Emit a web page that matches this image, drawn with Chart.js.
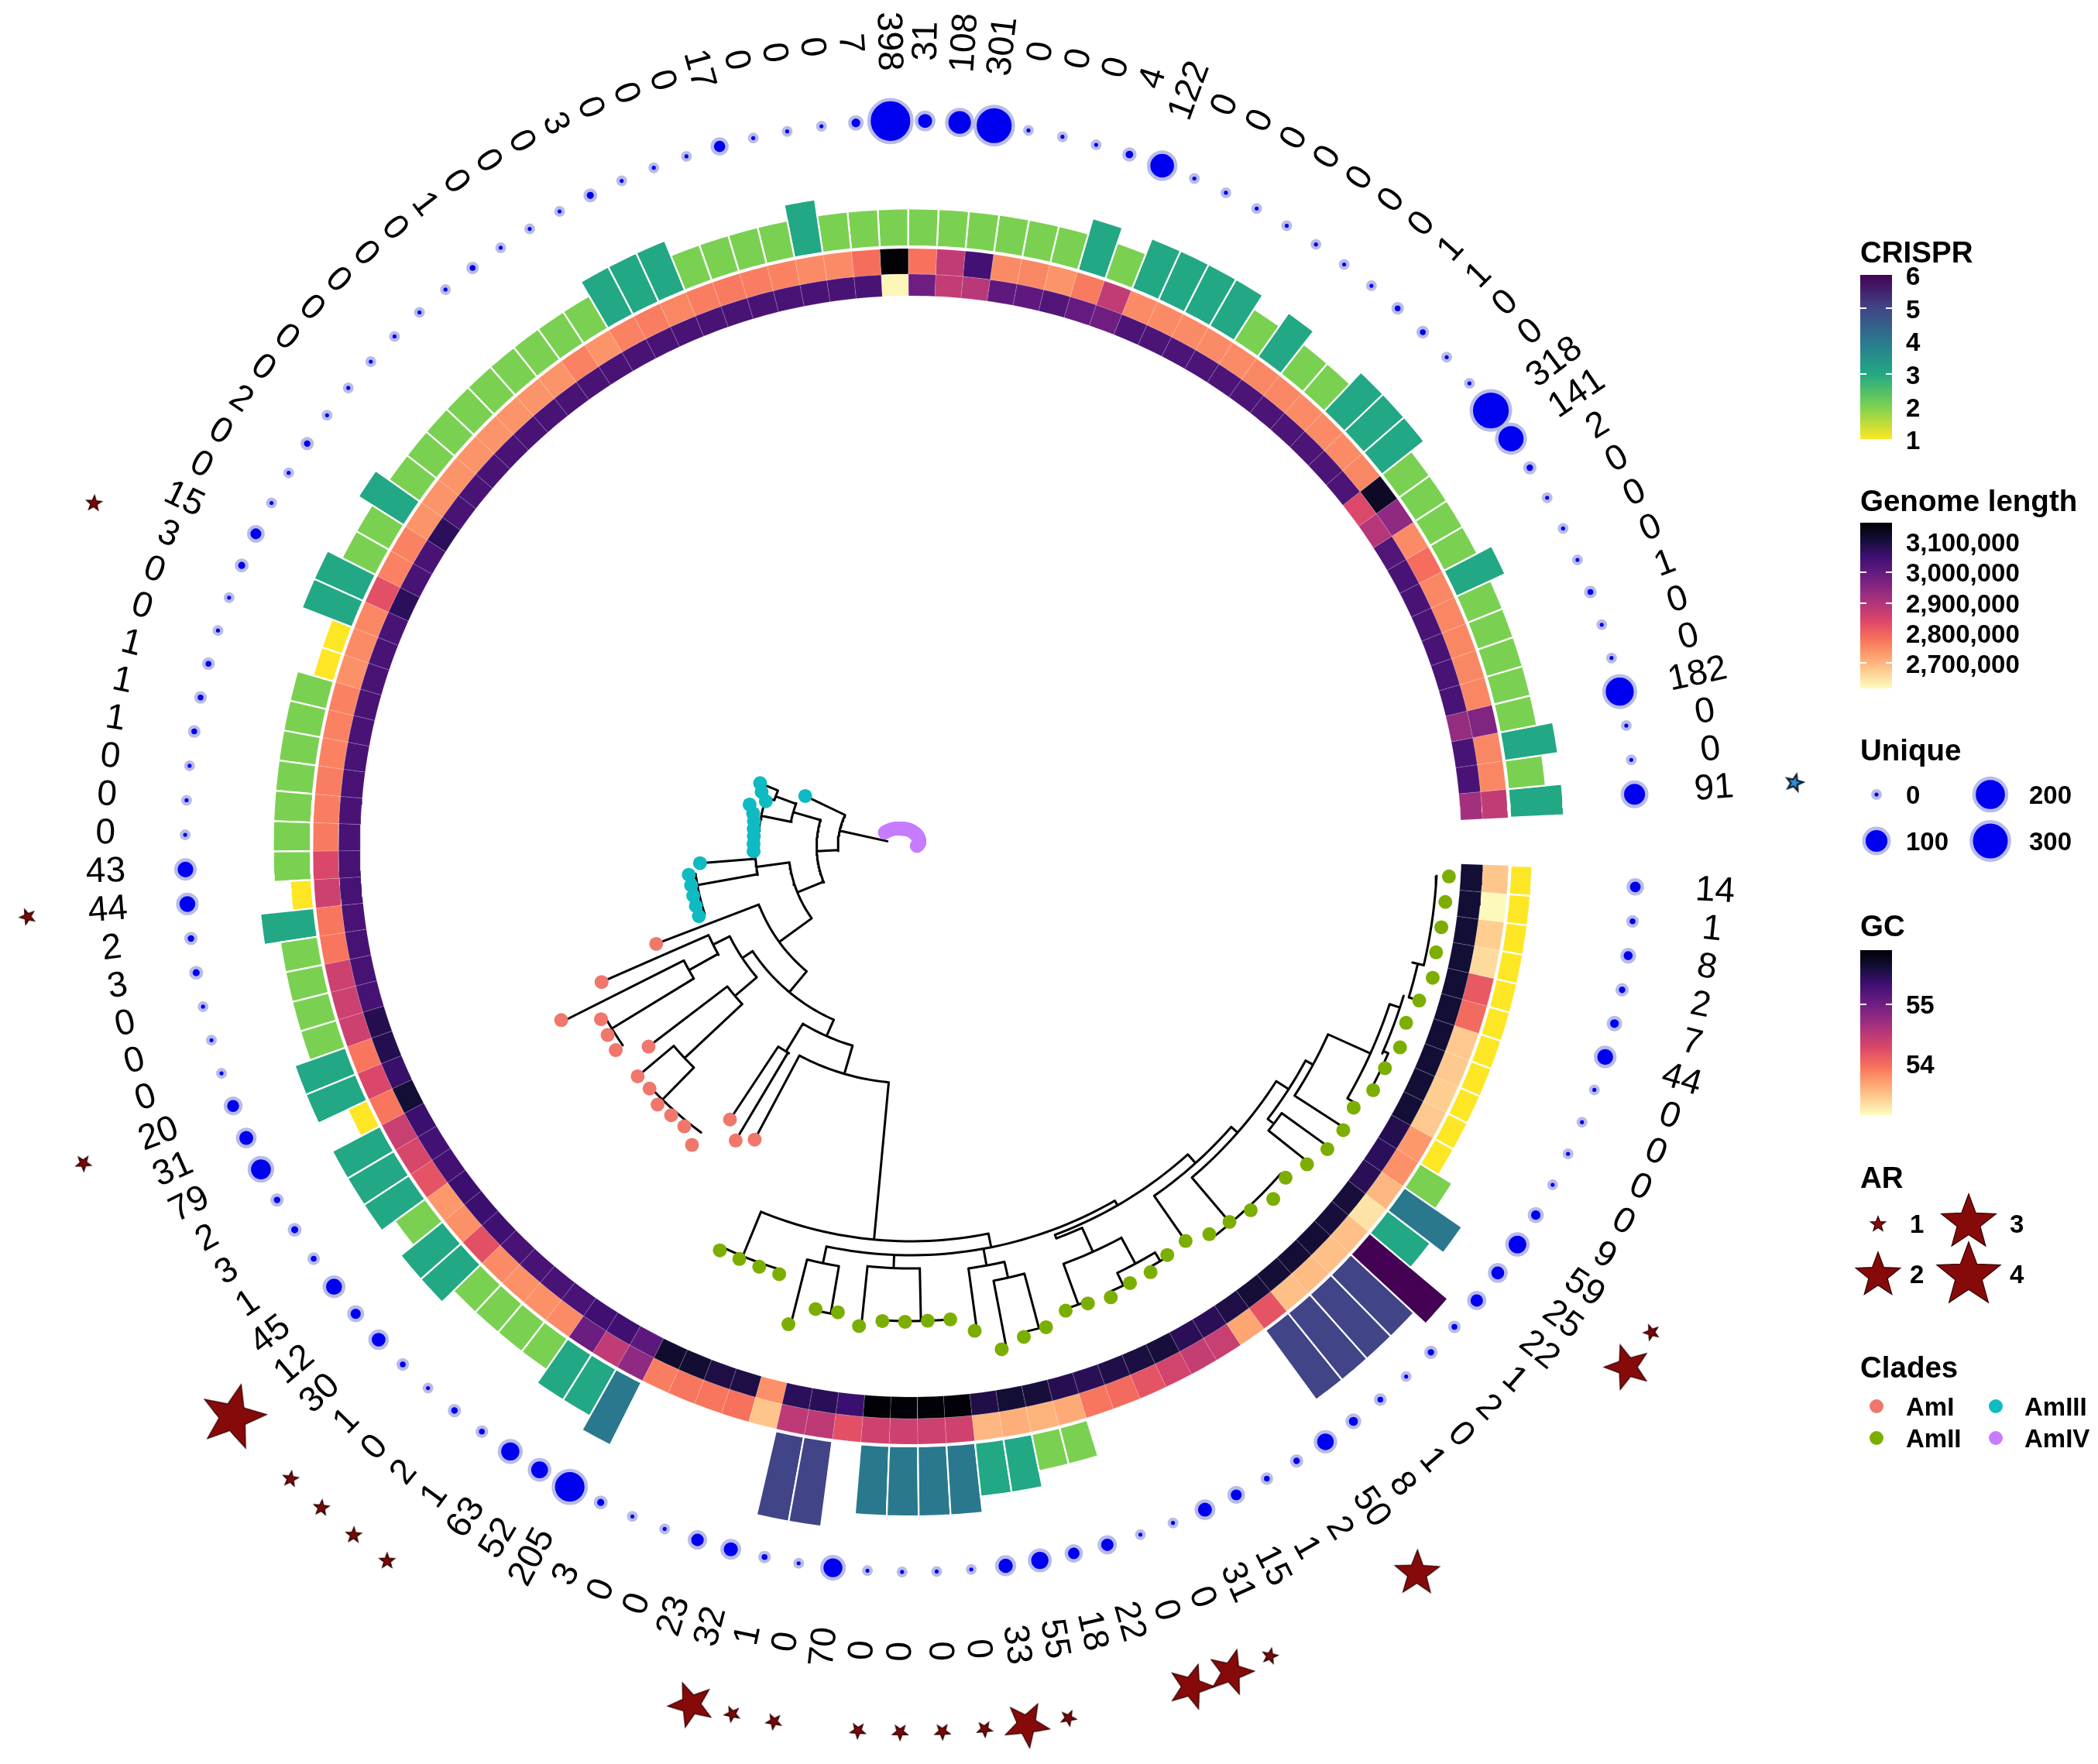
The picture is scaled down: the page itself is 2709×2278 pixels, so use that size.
<!DOCTYPE html>
<html><head><meta charset="utf-8">
<style>html,body{margin:0;padding:0;background:#fff}canvas{display:block}</style>
<script src="https://cdn.jsdelivr.net/npm/chart.js@4"></script>
</head><body><canvas id="c" width="2709" height="2278"></canvas>
<script>
// ---------- data, clockwise from the tip just below the gap ----------
const uniqueCounts=[14,1,8,2,7,44,0,0,0,0,
9,59,25,22,1,2,0,1,8,50,
2,1,15,31,0,0,22,18,55,33,
0,0,0,0,70,0,1,32,23,0,
0,3,205,52,63,1,2,0,1,30,
12,45,1,3,2,79,31,20,0,0,
0,3,2,44,43,0,0,0,1,1,
1,0,0,3,15,0,0,2,0,0,
0,0,0,0,1,0,0,0,3,0,
0,0,17,0,0,0,7,398,31,108,
301,0,0,0,4,122,0,0,0,0,
0,0,0,1,1,0,0,318,141,2,
0,0,0,1,0,0,182,0,0,91];
const crispr=[1,1,1,1,1,1,1,1,1,1,
1,2,4,3,6,5,5,5,5,null,
null,null,null,null,null,null,2,2,3,3,
4,4,4,4,null,5,5,null,null,null,
null,null,4,3,3,2,2,2,2,3,
3,2,3,3,3,1,3,3,2,2,
2,2,3,1,2,2,2,2,2,2,
2,1,1,3,3,2,2,3,2,2,
2,2,2,2,2,2,2,3,3,3,
2,2,2,2,3,2,2,2,2,2,
2,2,2,2,3,2,3,3,3,3,
2,3,2,2,3,3,3,2,2,2,
2,3,2,2,2,2,2,3,2,3];
const genomeLength=[2684,2625,2675,2660,2813,2790,2680,2680,2675,2680,
2735,2745,2700,2650,2690,2690,2695,2690,2820,2720,
2865,2870,2850,2820,2790,2775,2715,2705,2710,2700,
2855,2860,2860,2855,2825,2880,2880,2685,2780,2775,
2775,2765,2940,2875,2985,2750,2745,2745,2750,2825,
2745,2735,2820,2845,2865,2775,2840,2775,2860,2860,
2860,2775,2775,2860,2840,2770,2765,2765,2760,2760,
2760,2745,2750,2755,2825,2760,2760,2740,2740,2740,
2740,2740,2740,2740,2740,2760,2740,2760,2765,2755,
2765,2770,2765,2760,2750,2750,2785,3155,2780,2875,
3040,2750,2755,2740,2770,2875,2750,2750,2750,2750,
2750,2755,2755,2750,2750,2750,2755,3120,2940,2750,
2785,2755,2755,2755,2755,2755,2958,2755,2755,2875];
const gc=[55.68,55.68,55.68,55.68,55.68,55.68,55.68,55.68,55.68,55.68,
55.55,55.50,55.52,55.65,55.65,55.67,55.67,55.67,55.66,55.60,
55.52,55.52,55.65,55.62,55.58,55.52,55.54,55.65,55.68,55.58,
55.93,55.93,55.93,55.93,55.40,55.52,55.50,53.82,55.60,55.60,
55.70,55.72,55.17,55.37,55.37,55.30,55.30,55.30,55.30,55.37,
55.40,55.40,55.35,55.35,55.40,55.68,55.42,55.55,55.55,55.32,
55.32,55.32,55.30,55.32,55.32,55.30,55.30,55.30,55.30,55.30,
55.30,55.30,55.30,55.30,55.50,55.30,55.30,55.50,55.30,55.30,
55.30,55.30,55.30,55.30,55.30,55.30,55.30,55.30,55.30,55.30,
55.30,55.30,55.30,55.30,55.30,55.30,55.30,53.22,55.05,54.48,
54.55,55.15,55.15,55.25,55.12,55.05,55.28,55.28,55.28,55.28,
55.28,55.28,55.28,55.28,55.28,55.28,55.28,54.30,54.57,55.25,
55.30,55.30,55.30,55.30,55.30,55.30,54.79,55.30,55.30,54.70];
const arTips=[11,12,19,23,24,25,28,29,30,31,32,33,35,36,37,45,46,47,48,50,57,63,73,129];
const arLevels=[1,2,2,1,2,2,1,2,1,1,1,1,1,1,2,1,1,1,1,4,1,1,1,1];
const arBlueTips=[129];
const tipDepth=[696,694,693,692,695,686,679,683,676,675,
664,668,665,656,646,653,643,636,632,621,
623,631,631,637,633,632,645,650,660,631,
613,613,614,614,623,609,610,637,578,577,
577,577,429,442,423,478,465,465,467,460,
461,426,463,461,458,504,436,352,288,288,
288,288,289,273,203,203,203,204,205,208,
215,196,205,211,151,
38,37,36,35,34,33,32,31,30,29,
28,27,26,25,25,24,24,23,23,22,
22,21,21,20,20,19,19,18,18,18,
17,17,17,16,16,16,15,15,15,14,
14,14,13,13,13,12,12,12,11,11,
10,10,9,8,8];
const cladeNames=['AmI','AmII','AmIII','AmIV'];
const cladeFirstTip=[42,0,58,75];
const cladeLastTip=[57,41,74,129];
const cladeColors=['#F0776C','#7CAE00','#0FBAC2','#C77CFF'];
// tree branches in tip-index / depth terms
const treeArcs=[[94,63.4,73.8],[121.5,56.4,70.7],[158,68.9,72.2],[186,71.5,72.9],[197,64,70],[158,51.6,61.8],[201,60.8,63.1],[280,58,62],
[210,46.3,56.8],[245,40.5,52.4],[268,37.7,43.2],[306,33.7,42],[310,42.9,44],[261,49.9,54.9],[285,53.9,55.8],[328,53.2,54.9],[452,52,54],
[298,48.9,50.9],[400,48,50],[458,45,49],
[510,27.6,39.9],[572,38,41],[528,20.8,36.1],[550,35.3,36.9],[612,35,36],[545,31.3,33.9],[613,30,33],[550,27.1,28.9],[571,26.3,27.8],[644,26,27],
[535,16.4,24.3],[540,22.9,24.3],[574,21.4,24.4],[630,24,25],[612,20.4,22.3],[625,20,21],[630,22,23],[550,13.9,19],[561,10.8,17],[638,14,18],
[580,9.25,12.5],[590,11.9,12.9],[591,7.7,10.9],[651,5.5,9.8],[665,5,7.5],[672,3.6,5],[672,7.4,9],[680,0,3.6]];
const treeRadials=[[69.2,31,94],[74,94,151],[63.6,94,121.5],[70.6,121.5,158],[68.9,158,197],[72.1,158,186],[73,186,211],[71.5,186,198],[56.6,121.5,158],
[61.9,158,201],[63,201,273],[60.9,201,280],[51.5,158,210],[57,210,352],[46.3,210,245],[40.5,245,268],[37.7,268,306],[43.2,268,310],[44,310,423],[43,310,442],[42,306,429],
[52.4,245,261],[55,261,285],[56,285,436],[54,285,328],[54.9,328,504],[53.2,328,452],[49.9,261,298],[51,298,426],[48.9,298,400],[50,400,461],[48,400,458],
[33.7,306,510],[39.9,510,572],[27.6,510,528],[36.1,528,550],[36.9,550,637],[35.3,550,612],[32.6,528,545],[33.9,545,623],[31.3,545,613],
[28,528,550],[28.9,550,631],[27.1,550,571],[27.8,571,660],[26.3,571,644],
[20.8,528,535],[24.3,535,540],[22.9,540,574],[24.4,574,630],[21.4,574,612],[22.3,612,628],[20.4,612,623],[16.4,535,550],[19,550,621],[13.9,550,561],[17,561,638],
[10.8,561,580],[12.5,580,590],[11.9,590,665],[12.9,590,656],[9.25,580,591],[10.9,591,668],[7.7,591,651],[9.8,651,664],[5.5,651,665],[3.6,665,680],[7.4,665,672],[5,672,686]];
const crisprTicks=[6,5,4,3,2,1];
const genomeTicks=['3,100,000','3,000,000','2,900,000','2,800,000','2,700,000'];
const gcTicks=['55','54'];
const uniqueLegend=[0,100,200,300];
const arLegend=[1,2,3,4];

// ---------- layout ----------
const W=2709,H=2278,CX=1176,CY=1093,STEP=2.734,START=3.2;
const R_GC=[711,739],R_GEN=[739,772],R_BAR=775,R_DOT=937,R_LAB=1040,R_STAR=1144;
const FONT='"Liberation Sans",Arial,sans-serif';
const ang=i=>START+STEP*i;
const pol=(i,r)=>{const a=ang(i)*Math.PI/180;return{x:CX+r*Math.cos(a),y:CY+r*Math.sin(a)};};
const hex=h=>[1,3,5].map(k=>parseInt(h.substr(k,2),16));
const ramp=(st,t)=>{t=Math.max(0,Math.min(1,t));const n=st.length-1,k=Math.min(n-1,Math.floor(t*n)),f=t*n-k,a=hex(st[k]),b=hex(st[k+1]);
  return 'rgb('+a.map((v,j)=>Math.round(v+(b[j]-v)*f)).join(',')+')';};
const MAGMA=['#000004','#140E36','#3B0F70','#641A80','#8C2981','#B73779','#DE4968','#F7705C','#FE9F6D','#FECF92','#FCFDBF'];
const VIRIDIS=['#440154','#414487','#2A788E','#22A884','#7AD151','#FDE725'];
const genomeColor=v=>ramp(MAGMA,(3157-v)/537);
const gcColor=v=>ramp(MAGMA,(55.95-v)/2.77);
const crisprColor=v=>ramp(VIRIDIS,(6-v)/5);
const barH=v=>7+20.8*v;
const dotR=v=>7+Math.sqrt(v)*1.15;
const HALO=4.4;

function wedge(i,r0,r1){const s=[-.5,-.25,0,.25,.5],p=[];
  s.forEach(d=>p.push(pol(i+d,r0)));s.slice().reverse().forEach(d=>p.push(pol(i+d,r1)));p.push(p[0]);return p;}
const cell=(pts,color,bc,bw)=>({data:pts,showLine:true,fill:'shape',backgroundColor:color,borderColor:bc,borderWidth:bw,pointRadius:0,tension:0,clip:false});

function starPath(ctx,x,y,r,rotDeg){ctx.beginPath();for(let k=0;k<10;k++){const rr=k%2?r*.42:r,a=(rotDeg-90+k*36)*Math.PI/180;
  const px=x+rr*Math.cos(a),py=y+rr*Math.sin(a);k?ctx.lineTo(px,py):ctx.moveTo(px,py);}ctx.closePath();}
const STAR_R={1:10,2:30,3:37,4:43};
function starSprite(r,fill,edge,lw){const c=document.createElement('canvas');c.width=c.height=2*r+6;
  const g=c.getContext('2d');starPath(g,r+3,r+3,r,0);g.fillStyle=fill;g.fill();g.strokeStyle=edge;g.lineWidth=lw;g.stroke();return c;}
const sprites={1:starSprite(10,'#7A0808','#3C0505',1.6),2:starSprite(30,'#870A0A','#3C0505',1.4),3:starSprite(37,'#870A0A','#3C0505',1.4),4:starSprite(43,'#870A0A','#3C0505',1.4)};
const blueSprite=starSprite(11,'#2F8FD8','#10202C',2.4);

// ---------- datasets ----------
const datasets=[];
// tips first so that they sit on top of the branches
cladeNames.forEach((n,c)=>{const pts=[];for(let i=cladeFirstTip[c];i<=cladeLastTip[c];i++)pts.push(pol(i,tipDepth[i]));
  datasets.push({data:pts,showLine:false,pointRadius:9,pointBorderWidth:0,pointBackgroundColor:cladeColors[c],clip:false});});
// tree branches
const treePts=[];const brk={x:NaN,y:NaN};
treeRadials.forEach(([i,a,b])=>{treePts.push(pol(i,a),pol(i,b),brk);});
treeArcs.forEach(([r,a,b])=>{for(let t=a;t<b;t+=.4)treePts.push(pol(t,r));treePts.push(pol(b,r),brk);});
datasets.push({data:treePts,showLine:true,fill:false,borderColor:'#000',borderWidth:3,borderCapStyle:'round',pointRadius:0,spanGaps:false,tension:0,clip:false});
// unique dots
datasets.push({data:uniqueCounts.map((v,i)=>pol(i,R_DOT)),showLine:false,clip:false,
  pointRadius:uniqueCounts.map(v=>dotR(v)-HALO/2),pointBackgroundColor:'#0000F0',pointBorderColor:'#B9BCE9',pointBorderWidth:HALO});
// AR stars
datasets.push({data:arTips.map(i=>pol(i,R_STAR)),showLine:false,clip:false,
  pointStyle:arTips.map((t,k)=>arBlueTips.includes(t)?blueSprite:sprites[arLevels[k]]),pointRadius:10,rotation:arTips.map(i=>ang(i)+90)});
// rings
uniqueCounts.forEach((_,i)=>{
  datasets.push(cell(wedge(i,R_GC[0],R_GC[1]),gcColor(gc[i]),'rgba(255,255,255,.16)',1));
  datasets.push(cell(wedge(i,R_GEN[0],R_GEN[1]),genomeColor(genomeLength[i]),'rgba(255,255,255,.16)',1));
  if(crispr[i]!==null)datasets.push(cell(wedge(i,R_BAR,R_BAR+barH(crispr[i])),crisprColor(crispr[i]),'#fff',2.2));
});

// ---------- text and legend plugin ----------
const textPlugin={id:'textPlugin',afterDatasetsDraw(chart){
  const ctx=chart.ctx,sx=chart.scales.x,sy=chart.scales.y;
  ctx.save();ctx.textBaseline='middle';ctx.fillStyle='#000';
  // rotated value labels
  ctx.font='46px '+FONT;ctx.textAlign='center';
  uniqueCounts.forEach((v,i)=>{const p=pol(i,R_LAB),a=ang(i);let rot=a;if(a>90&&a<270)rot=a-180;
    ctx.save();ctx.translate(sx.getPixelForValue(p.x),sy.getPixelForValue(p.y));ctx.rotate(rot*Math.PI/180);ctx.fillText(String(v),0,0);ctx.restore();});
  ctx.textAlign='left';
  const title=(t,x,y)=>{ctx.font='bold 38.5px '+FONT;ctx.fillStyle='#000';ctx.fillText(t,x,y+3);};
  const lab=(t,x,y)=>{ctx.font='bold 33px '+FONT;ctx.fillStyle='#000';ctx.fillText(t,x,y+3);};
  const bar=(y0,y1,stops)=>{const g=ctx.createLinearGradient(0,y0,0,y1);stops.forEach((c,k)=>g.addColorStop(k/(stops.length-1),c));ctx.fillStyle=g;ctx.fillRect(2402,y0,41,y1-y0);};
  const tick=y=>{ctx.fillStyle='#fff';ctx.fillRect(2402,y-1,8,2);ctx.fillRect(2435,y-1,8,2);};
  // CRISPR
  title('CRISPR',2402,325);bar(355,567,VIRIDIS);
  [398,483].forEach(tick);
  crisprTicks.forEach((t,k)=>lab(String(t),2461,[356,399,441,484,526,568][k]));
  // Genome length
  title('Genome length',2402,646);bar(675,889,MAGMA);
  [739,779,856].forEach(tick);
  genomeTicks.forEach((t,k)=>lab(t,2461,[700,739,779,818,857][k]));
  // Unique
  title('Unique',2402,968);
  [[2423,1026],[2423,1086],[2570,1026],[2570,1086]].forEach((p,k)=>{const r=dotR(uniqueLegend[k]);
    ctx.beginPath();ctx.arc(p[0],p[1],r-HALO/2,0,7);ctx.fillStyle='#0000F0';ctx.fill();ctx.lineWidth=HALO;ctx.strokeStyle='#B9BCE9';ctx.stroke();
    lab(String(uniqueLegend[k]),k<2?2461:2620,p[1]);});
  // GC
  title('GC',2402,1195);bar(1227,1440,MAGMA);tick(1297);
  gcTicks.forEach((t,k)=>lab(t,2461,[1297,1374][k]));
  // AR
  title('AR',2402,1520);
  [[2425,1581],[2425,1647],[2542,1579],[2542,1647]].forEach((p,k)=>{
    starPath(ctx,p[0],p[1],STAR_R[arLegend[k]],0);ctx.fillStyle='#870A0A';ctx.fill();ctx.strokeStyle='#3C0505';ctx.lineWidth=1.4;ctx.stroke();
    lab(String(arLegend[k]),k<2?2466:2595,[1580,1645,1580,1645][k]);});
  // Clades
  title('Clades',2402,1765);
  [[2423,1816],[2423,1857],[2577,1816],[2577,1857]].forEach((p,k)=>{
    ctx.beginPath();ctx.arc(p[0],p[1],9,0,7);ctx.fillStyle=cladeColors[k];ctx.fill();
    lab(cladeNames[k],k<2?2461:2614,p[1]);});
  ctx.restore();
}};

new Chart(document.getElementById('c'),{type:'scatter',data:{datasets},plugins:[textPlugin],options:{
  responsive:false,animation:false,events:[],devicePixelRatio:1,
  layout:{padding:0,autoPadding:false},
  plugins:{legend:{display:false},tooltip:{enabled:false},title:{display:false}},
  scales:{x:{type:'linear',min:0,max:W,display:false},y:{type:'linear',min:0,max:H,reverse:true,display:false}}
}});
</script></body></html>
